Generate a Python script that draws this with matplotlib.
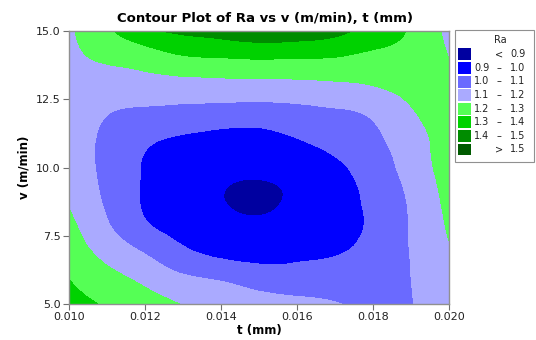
import numpy as np
import matplotlib
matplotlib.use("Agg")
import matplotlib.pyplot as plt
import matplotlib.tri as mtri
from matplotlib.patches import Rectangle

# ---- data ----
t_values = [0.010, 0.011, 0.012, 0.013, 0.014, 0.015, 0.016, 0.017, 0.018, 0.019, 0.020]
v_values = [5, 6, 7, 8, 9, 10, 11, 12, 13, 14, 15]
# Ra estimates, one row per v (5 -> 15), columns follow t_values
ra_v05 = [1.335, 1.290, 1.243, 1.197, 1.170, 1.147, 1.125, 1.104, 1.088, 1.098, 1.140]
ra_v06 = [1.296, 1.228, 1.170, 1.110, 1.080, 1.045, 1.038, 1.048, 1.070, 1.100, 1.160]
ra_v07 = [1.255, 1.160, 1.083, 1.010, 0.968, 0.960, 0.972, 0.988, 1.030, 1.104, 1.192]
ra_v08 = [1.218, 1.105, 1.005, 0.965, 0.930, 0.912, 0.933, 0.972, 1.013, 1.108, 1.212]
ra_v09 = [1.185, 1.080, 0.990, 0.948, 0.904, 0.878, 0.916, 0.965, 1.022, 1.117, 1.228]
ra_v10 = [1.160, 1.072, 0.993, 0.955, 0.925, 0.922, 0.936, 0.982, 1.045, 1.140, 1.240]
ra_v11 = [1.150, 1.078, 1.015, 0.985, 0.965, 0.965, 0.995, 1.032, 1.078, 1.155, 1.248]
ra_v12 = [1.153, 1.103, 1.080, 1.070, 1.060, 1.055, 1.068, 1.086, 1.115, 1.190, 1.245]
ra_v13 = [1.163, 1.150, 1.160, 1.162, 1.166, 1.167, 1.172, 1.182, 1.200, 1.230, 1.232]
ra_v14 = [1.178, 1.215, 1.245, 1.285, 1.297, 1.305, 1.300, 1.295, 1.275, 1.265, 1.200]
ra_v15 = [1.185, 1.282, 1.375, 1.418, 1.440, 1.470, 1.462, 1.430, 1.357, 1.289, 1.170]

# a few extra readings around the minimum (half-step positions)
extra_t = [0.0145, 0.0155, 0.0145, 0.0155]
extra_v = [8.5, 8.5, 9.5, 9.5]
extra_ra = [0.891, 0.902, 0.899, 0.906]

levels = [0.9, 1.0, 1.1, 1.2, 1.3, 1.4, 1.5]
legend_low = ["", "0.9", "1.0", "1.1", "1.2", "1.3", "1.4", ""]
legend_mid = ["<", "\u2013", "\u2013", "\u2013", "\u2013", "\u2013", "\u2013", ">"]
legend_high = ["0.9", "1.0", "1.1", "1.2", "1.3", "1.4", "1.5", "1.5"]
fill_colors = ["#0000A0", "#0000FF", "#6A6AFF", "#AAAAFF",
               "#55FF55", "#00D200", "#008C00", "#005A00"]

x_ticks = [0.010, 0.012, 0.014, 0.016, 0.018, 0.020]
y_ticks = [5.0, 7.5, 10.0, 12.5, 15.0]

title = "Contour Plot of Ra vs v (m/min), t (mm)"
xlabel = "t (mm)"
ylabel = "v (m/min)"

plt.rcParams['font.family'] = ['DejaVu Sans']

W, H = 536, 340
fig = plt.figure(figsize=(W / 100, H / 100), dpi=100)
ax = fig.add_axes([69 / W, 1 - 304 / H, (449 - 69) / W, (304 - 31) / H])

Z = np.array([ra_v05, ra_v06, ra_v07, ra_v08, ra_v09, ra_v10,
              ra_v11, ra_v12, ra_v13, ra_v14, ra_v15])
t_arr = np.array(t_values)
v_arr = np.array(v_values, dtype=float)
t0, t1 = t_arr.min(), t_arr.max()
v0, v1 = v_arr.min(), v_arr.max()
TT, VV = np.meshgrid(t_arr, v_arr)
pts_t = np.concatenate([TT.ravel(), extra_t])
pts_v = np.concatenate([VV.ravel(), extra_v])
pts_z = np.concatenate([Z.ravel(), extra_ra])
tri = mtri.Triangulation((pts_t - t0) / (t1 - t0), (pts_v - v0) / (v1 - v0))
interp = mtri.CubicTriInterpolator(tri, pts_z, kind='min_E')
refiner = mtri.UniformTriRefiner(tri)
tri_f, z_f = refiner.refine_field(pts_z, triinterpolator=interp, subdiv=5)
tri_d = mtri.Triangulation(t0 + tri_f.x * (t1 - t0), v0 + tri_f.y * (v1 - v0),
                           tri_f.triangles)
bounds = [-10] + levels + [10]
ax.tricontourf(tri_d, z_f, levels=bounds, colors=fill_colors)

ax.set_xlim(t0, t1)
ax.set_ylim(v0, v1)
ax.set_xticks(x_ticks)
ax.set_xticklabels([f"{x:.3f}" for x in x_ticks])
ax.set_yticks(y_ticks)
ax.set_yticklabels([f"{y:.1f}" for y in y_ticks])
ax.tick_params(axis='both', direction='out', length=4, width=0.8, color='#707070',
               labelsize=8, labelcolor='#222222', pad=2)
for s in ax.spines.values():
    s.set_color('#909090')
    s.set_linewidth(1.0)

ax.set_xlabel(xlabel, fontsize=8.5, fontweight='bold', labelpad=1)
ax.set_ylabel(ylabel, fontsize=8.5, fontweight='bold', labelpad=4)
fig.text(265 / W, 1 - 18 / H, title, ha='center', va='center',
         fontsize=9.5, fontweight='bold')

# legend box
fx = lambda px: px / W
fy = lambda py: 1 - py / H
fig.patches.append(Rectangle((fx(455), fy(162)), fx(534) - fx(455), fy(30) - fy(162),
                             transform=fig.transFigure, facecolor='white',
                             edgecolor='#909090', linewidth=0.8))
fig.text(fx(500), fy(40), "Ra", ha='center', va='center', fontsize=7, color='#222222')
row_y = [54.3, 67.9, 81.5, 95.1, 108.7, 122.3, 135.9, 149.5]
for i, col in enumerate(fill_colors):
    y = row_y[i]
    fig.patches.append(Rectangle((fx(458), fy(y + 6)), fx(471) - fx(458), fy(y - 6) - fy(y + 6),
                                 transform=fig.transFigure, facecolor=col, edgecolor='none'))
    if legend_low[i]:
        fig.text(fx(482), fy(y), legend_low[i], ha='center', va='center', fontsize=7, color='#222222')
    fig.text(fx(499), fy(y), legend_mid[i], ha='center', va='center', fontsize=7, color='#222222')
    fig.text(fx(518), fy(y), legend_high[i], ha='center', va='center', fontsize=7, color='#222222')

fig.savefig("out.png", dpi=100)
